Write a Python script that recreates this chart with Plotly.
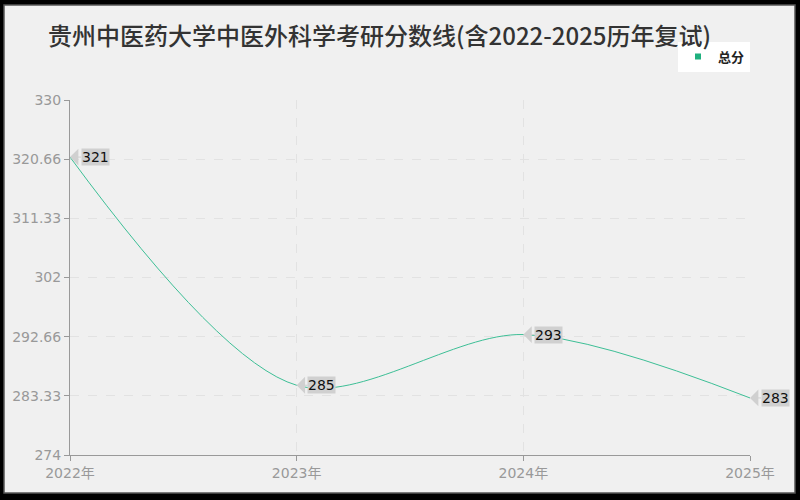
import plotly.graph_objects as go

years = [2022, 2023, 2024, 2025]
year_labels = ["2022年", "2023年", "2024年", "2025年"]
scores = [321, 285, 293, 283]
y_ticks = [274, 283.33, 292.66, 302, 311.33, 320.66, 330]
y_tick_labels = ["274", "283.33", "292.66", "302", "311.33", "320.66", "330"]

line_color = "#3dbf96"
cjk_font = "Noto Sans CJK SC, Noto Sans, DejaVu Sans"
num_font = "DejaVu Sans, Noto Sans CJK SC"

fig = go.Figure()
fig.add_trace(go.Scatter(
    x=years, y=scores, mode="lines", name="总分",
    line=dict(color=line_color, width=1, shape="spline", smoothing=0.9),
    showlegend=False, cliponaxis=False,
))
# legend proxy
fig.add_trace(go.Scatter(
    x=[None], y=[None], mode="markers", name="<b>总分</b>",
    marker=dict(symbol="square", color="#1fb07e", size=6),
))

annotations = []
for x, y in zip(years, scores):
    annotations.append(dict(
        x=x, y=y, xref="x", yref="y", text=str(y),
        showarrow=True, ax=25, ay=0, axref="pixel", ayref="pixel",
        arrowhead=1, arrowsize=2.8, arrowwidth=1, arrowcolor="#d0d0d0",
        arrowside="end", standoff=0, startstandoff=0,
        bgcolor="#d0d0d0", borderpad=0,
        font=dict(size=14, color="#111111", family=num_font),
    ))

fig.update_layout(
    width=800, height=500,
    paper_bgcolor="#000000",
    plot_bgcolor="#fbfbfb",
    margin=dict(l=70, r=50, t=100, b=45),
    font=dict(family=cjk_font),
    title=dict(
        text="贵州中医药大学中医外科学考研分数线(含2022-2025历年复试)",
        x=0.06, xanchor="left", y=0.927, yanchor="middle",
        font=dict(size=24, color="#333333", family=cjk_font, weight=500),
    ),
    legend=dict(
        x=1.0, y=1.1225, xanchor="right", yanchor="middle",
        bgcolor="#ffffff", font=dict(size=13, color="#222222"),
        itemwidth=30, tracegroupgap=0,
    ),
    shapes=[
        dict(type="rect", xref="paper", yref="paper", layer="below",
             x0=-66/680, x1=(795-70)/680, y0=-(493-455)/355, y1=(455-5)/355,
             fillcolor="#f0f0f0", line=dict(color="#555555", width=1.5)),
    ],
    annotations=annotations,
    xaxis=dict(
        range=[2022, 2025], tickvals=years, ticktext=year_labels,
        showgrid=True, gridcolor="#e2e2e2", griddash="dash", gridwidth=1,
        showline=True, linecolor="#999999", linewidth=1,
        ticks="outside", ticklen=5, tickcolor="#999999",
        tickfont=dict(size=14, color="#999999", family=num_font), zeroline=False,
    ),
    yaxis=dict(
        range=[274, 330], tickvals=y_ticks, ticktext=y_tick_labels,
        showgrid=True, gridcolor="#e2e2e2", griddash="dash", gridwidth=1,
        showline=True, linecolor="#999999", linewidth=1,
        ticks="outside", ticklen=5, tickcolor="#999999",
        tickfont=dict(size=14, color="#999999", family=num_font), zeroline=False,
    ),
)

fig.write_html(
    "out.html",
    config={"displayModeBar": False},
    post_script="document.body.style.margin='0';document.body.style.background='#000';",
)
